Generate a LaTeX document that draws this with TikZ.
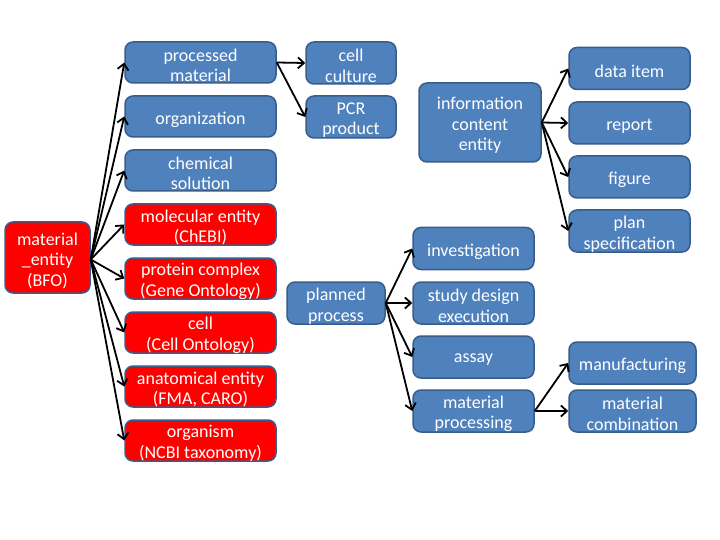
\documentclass[tikz,border=0pt]{standalone}
\usepackage{fontspec}
\setmainfont{Carlito}
\usetikzlibrary{arrows.meta}
\definecolor{boxblue}{RGB}{79,129,189}
\definecolor{boxedge}{RGB}{56,93,138}
\definecolor{boxred}{RGB}{255,0,0}
\tikzset{
  base/.style={draw=boxedge, line width=1.5pt, rounded corners=8pt, inner sep=0pt},
  bluebox/.style={base, fill=boxblue},
  redbox/.style={base, fill=boxred},
  txt/.style={text=white, align=center, inner sep=0pt, yshift=-3pt,
    font=\fontsize{18}{20.5}\selectfont},
  conn/.style={line width=1.8pt, -{Straight Barb[length=6pt,width=11pt,line width=1.8pt]}},
}
\begin{document}
\begin{tikzpicture}[x=1pt,y=-1pt]
\useasboundingbox (0,0) rectangle (720,540);
\fill[white] (0,0) rectangle (720,540);
% left
\node[redbox, minimum width=85, minimum height=71, label={[txt]center:{material\\\_entity\\(BFO)}}] (me) at (47.5,257.5) {};
\node[bluebox, minimum width=151, minimum height=41, label={[txt]center:{processed\\material}}] (pm) at (200.5,62.5) {};
\node[bluebox, minimum width=151, minimum height=41, label={[txt]center:{organization}}] (org) at (200.5,116.5) {};
\node[bluebox, minimum width=151, minimum height=41, label={[txt]center:{chemical\\solution}}] (chem) at (200.5,170.5) {};
\node[redbox, minimum width=151, minimum height=41, label={[txt]center:{molecular entity\\(ChEBI)}}] (mol) at (200.5,224.5) {};
\node[redbox, minimum width=151, minimum height=41, label={[txt]center:{protein complex\\(Gene Ontology)}}] (prot) at (200.5,278.5) {};
\node[redbox, minimum width=151, minimum height=41, label={[txt]center:{cell\\(Cell Ontology)}}] (cell) at (200.5,332.5) {};
\node[redbox, minimum width=151, minimum height=41, label={[txt]center:{anatomical entity\\(FMA, CARO)}}] (anat) at (200.5,386.5) {};
\node[redbox, minimum width=151, minimum height=41, label={[txt]center:{organism\\(NCBI taxonomy)}}] (orgm) at (200.5,440.5) {};
% processed material children
\node[bluebox, minimum width=90, minimum height=42, label={[txt]center:{cell\\culture}}] (cc) at (351,63) {};
\node[bluebox, minimum width=90, minimum height=42, label={[txt]center:{PCR\\product}}] (pcr) at (351,117) {};
% ICE
\node[bluebox, minimum width=122, minimum height=79, label={[txt]center:{information\\content\\entity}}] (ice) at (480,122.5) {};
\node[bluebox, minimum width=121, minimum height=42, label={[txt]center:{data item}}] (di) at (629.5,68.5) {};
\node[bluebox, minimum width=121, minimum height=42, label={[txt]center:{report}}] (rep) at (629.5,123) {};
\node[bluebox, minimum width=121, minimum height=42, label={[txt]center:{figure}}] (fig) at (629.5,177) {};
\node[bluebox, minimum width=121, minimum height=42, label={[txt]center:{plan\\specification}}] (ps) at (629.5,231) {};
% planned process
\node[bluebox, minimum width=98, minimum height=42, label={[txt]center:{planned\\process}}] (pp) at (336,303) {};
\node[bluebox, minimum width=121, minimum height=42, label={[txt]center:{investigation}}] (inv) at (473.5,248.5) {};
\node[bluebox, minimum width=121, minimum height=42, label={[txt]center:{study design\\execution}}] (sde) at (473.5,303) {};
\node[bluebox, minimum width=121, minimum height=42, label={[txt]center:{assay}}] (assay) at (473.5,357) {};
\node[bluebox, minimum width=121, minimum height=42, label={[txt]center:{material\\processing}}] (mp) at (473.5,411) {};
\node[bluebox, minimum width=127, minimum height=42, label={[txt]center:{manufacturing}}] (man) at (632.5,363) {};
\node[bluebox, minimum width=127, minimum height=42, label={[txt]center:{material\\combination}}] (mc) at (632.5,411) {};
% connectors
\foreach \t in {pm,org,chem,mol,prot,cell,anat,orgm}
  \draw[conn] ([yshift=-2pt]me.east) -- (\t.west);
\foreach \t in {cc,pcr}
  \draw[conn] (pm.east) -- (\t.west);
\foreach \t in {di,rep,fig,ps}
  \draw[conn] (ice.east) -- (\t.west);
\foreach \t in {inv,sde,assay,mp}
  \draw[conn] (pp.east) -- (\t.west);
\foreach \t in {man,mc}
  \draw[conn] (mp.east) -- (\t.west);
\end{tikzpicture}
\end{document}
